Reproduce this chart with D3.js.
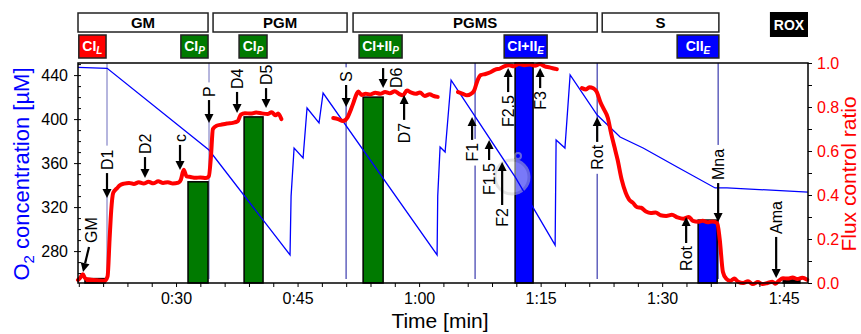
<!DOCTYPE html>
<html>
<head>
<meta charset="utf-8">
<script src="https://cdn.jsdelivr.net/npm/d3@7"></script>
<style>
  body { margin: 0; background: #fff; }
  svg { display: block; font-family: "Liberation Sans", Arial, sans-serif; }
</style>
</head>
<body>
<svg id="chart" width="861" height="334"></svg>
<script>
// O2 concentration trace [min, µM]
const o2Trace = [[17.9,447.1],[21.5,446.2],[34.07,371.9],[44.07,276.5],[44.2,330],[44.57,373.7],[45.68,364.6],[46.17,410.1],
  [47.65,396.5],[48.15,423.7],[62.22,276.5],[62.3,330],[62.59,374.6],[63.21,370.1],[63.95,435.5],[71.85,347.4],
  [76.79,285.5],[76.91,381],[78.0,373.7],[78.64,440.1],[81.98,403.7],[84.81,383.7],[87.65,373.7],[91.85,356.5],
  [96.54,337.4],[98.0,337.4],[108,333.7]];

// flux control ratio, one array per recorded section [min, ratio]
const fluxGM = [[17.9,0.014],[18.2,0.025],[18.5,0.04],[18.8,0.02],[19.5,0.015],[20.3,0.012],[21.2,0.01],[21.55,0.03],
  [21.8,0.2],[22.0,0.33],[22.25,0.41],[22.7,0.43],[23.1,0.445],[23.6,0.452],[24.2,0.455],[24.8,0.45],[25.4,0.458],
  [26.0,0.452],[26.6,0.46],[27.2,0.453],[27.8,0.462],[28.4,0.455],[29.0,0.458],[29.6,0.452],[30.3,0.456],[30.6,0.47],
  [30.95,0.515],[31.3,0.485],[31.8,0.482],[32.4,0.478],[33.0,0.48],[33.7,0.477],[34.05,0.485],[34.3,0.57],[34.55,0.7],
  [35.0,0.715],[35.6,0.72],[36.3,0.725],[37.0,0.728],[37.6,0.735],[38.0,0.765],[38.5,0.772],[39.2,0.77],[39.9,0.775],
  [40.6,0.771],[41.3,0.768],[41.8,0.776],[42.3,0.762],[42.6,0.77],[43.0,0.745]];
const fluxPGMS = [[49.4,0.75],[50.0,0.745],[50.6,0.736],[51.2,0.755],[51.6,0.79],[51.9,0.82],[52.3,0.86],[52.5,0.87],
  [52.9,0.855],[53.4,0.86],[54.0,0.857],[54.6,0.865],[55.2,0.86],[55.8,0.868],[56.4,0.862],[57.0,0.872],[57.5,0.86],
  [58.0,0.853],[58.5,0.875],[59.0,0.866],[59.6,0.86],[60.1,0.866],[60.7,0.85],[61.3,0.858],[61.8,0.85],[62.3,0.846]];
const fluxF = [[64.8,0.868],[65.4,0.86],[65.9,0.853],[66.4,0.86],[66.8,0.875],[67.2,0.92],[67.6,0.945],[68.2,0.95],
  [68.8,0.958],[69.4,0.97],[70.0,0.975],[70.5,0.985],[71.1,0.99],[71.7,0.985],[72.3,0.995],[73.0,0.99],[73.7,0.993],
  [74.3,0.988],[74.9,0.995],[75.5,0.985],[76.1,0.98],[76.6,0.975],[77.0,0.972]];
const fluxS = [[80.1,0.886],[80.6,0.88],[81.0,0.89],[81.5,0.885],[81.9,0.87],[82.4,0.82],[82.8,0.79],[83.3,0.75],
  [83.7,0.68],[84.1,0.62],[84.5,0.56],[85.0,0.47],[85.5,0.41],[85.9,0.38],[86.4,0.364],[86.9,0.345],[87.4,0.342],
  [88.0,0.325],[88.6,0.318],[89.2,0.32],[89.8,0.308],[90.5,0.305],[91.2,0.31],[91.9,0.298],[92.6,0.292],[93.3,0.3],
  [93.8,0.282],[94.4,0.278],[95.0,0.283],[95.6,0.276],[96.2,0.28],[96.8,0.272],[97.1,0.2],[97.5,0.05],[97.9,0.02],
  [98.4,0.01],[98.9,0.02],[99.4,0.005],[100.0,0.0],[100.6,0.008],[101.2,-0.005],[101.8,0.004],[102.4,-0.005],
  [103.0,0.0],[103.6,0.006],[104.0,-0.003],[104.4,0.01],[104.9,0.022],[105.5,0.02],[106.1,0.025],[106.7,0.018],
  [107.3,0.024],[107.9,0.015]];

// marked flux states (bars)
const barStart = [18.76,31.48,38.4,53.09,71.85,94.44,104.94];
const barEnd = [21.23,33.95,40.74,55.56,74.07,96.79,107.0];
const barValue = [0.02,0.46,0.755,0.845,1.0,0.286,0.014];
const barColor = ["#ff0000","#007a00","#007a00","#007a00","#0000ff","#0000ff","#000000"];

// substrate states and rate labels on top
const stateLabel = ["GM","PGM","PGMS","S"];
const stateStart = [17.9,34.57,51.85,82.6];
const stateEnd = [33.95,51.11,81.98,97.0];
const roxStart = 103.3, roxEnd = 108.0;
const rateMain = ["CI","CI","CI","CI+II","CI+II","CII"];
const rateSub = ["L","P","P","P","E","E"];
const rateStart = [18.0,30.6,37.78,52.59,70.5,91.85];
const rateEnd = [21.36,33.95,41.23,57.9,75.8,97.0];
const rateColor = ["#ff0000","#007a00","#007a00","#007a00","#0000ff","#0000ff"];

// titration events
const eventTimes = [21.48,34.07,50.99,66.91,81.98,96.91];
const annLabel = ["GM","D1","D2","c","P","D4","D5","S","D6","D7","F1","F1.5","F2","F2.5","F3","Rot","Mna","Rot","Ama"];
const annTime = [18.52,21.48,26.17,30.49,34.07,37.53,41.11,50.99,55.56,58.15,66.54,68.64,70.25,70.99,74.94,81.98,96.91,92.96,104.07];
const annTip = [0.05,0.386,0.477,0.514,0.727,0.773,0.795,0.8,0.886,0.855,0.755,0.65,0.55,0.977,0.977,0.755,0.277,0.3,0.023];

// arrow layout
const annUp = [0,0,0,0,0,0,0,0,0,1,1,1,1,1,1,1,0,1,0];
const annLen = [25,25,21,25,23,21,20,22,20,25,23,20,43,24,20,25,39,26,41];

const svg = d3.select("#chart");
const L = 78, R = 808, T = 63, B = 283;

const x = d3.scaleLinear().domain([17.9, 108.0]).range([L, R]);
const yO2 = d3.scaleLinear().domain([251, 451]).range([B, T]);
const yF = d3.scaleLinear().domain([0, 1]).range([B, T]);

const fmt = d => Math.floor(d / 60) + ":" + String(d % 60).padStart(2, "0");

// event lines
svg.append("g").selectAll("line").data(eventTimes).enter().append("line")
  .attr("x1", d => x(d)).attr("x2", d => x(d))
  .attr("y1", T).attr("y2", 279)
  .attr("stroke", (d, i) => i < 2 ? "#8585c8" : "#3a3aad")
  .attr("stroke-width", 1.2);

// white patches behind labels so the event lines break there
const labelBg = svg.append("g");

// bars
svg.append("g").selectAll("rect").data(barStart).enter().append("rect")
  .attr("x", (d, i) => x(d))
  .attr("width", (d, i) => x(barEnd[i]) - x(d))
  .attr("y", (d, i) => yF(barValue[i]))
  .attr("height", (d, i) => B - yF(barValue[i]))
  .attr("fill", (d, i) => barColor[i])
  .attr("stroke", "#000").attr("stroke-width", 1.5);

// watermark
const wm = svg.append("g").attr("opacity", 0.5);
wm.append("circle").attr("cx", 512).attr("cy", 177).attr("r", 17)
  .attr("fill", "#f2f2f2").attr("stroke", "#c8c8c8").attr("stroke-width", 3);
wm.append("circle").attr("cx", 518).attr("cy", 156).attr("r", 3)
  .attr("fill", "none").attr("stroke", "#c8c8c8").attr("stroke-width", 2);

// O2 trace
svg.append("path").datum(o2Trace)
  .attr("fill", "none").attr("stroke", "#0000ff").attr("stroke-width", 1.3)
  .attr("d", d3.line().x(d => x(d[0])).y(d => yO2(d[1])));

// flux control ratio
const fLine = d3.line().x(d => x(d[0])).y(d => yF(d[1])).curve(d3.curveMonotoneX);
[fluxGM, fluxPGMS, fluxF, fluxS].forEach(seg => {
  svg.append("path").datum(seg)
    .attr("fill", "none").attr("stroke", "#ff0000").attr("stroke-width", 4)
    .attr("stroke-linejoin", "round").attr("stroke-linecap", "round")
    .attr("d", fLine);
});

// frame
svg.append("rect").attr("x", L).attr("y", T).attr("width", R - L).attr("height", B - T)
  .attr("fill", "none").attr("stroke", "#000").attr("stroke-width", 1.5);

// axes
const xAxis = svg.append("g").attr("transform", `translate(0,${B})`)
  .call(d3.axisBottom(x).tickValues(d3.range(18, 108, 3)).tickSize(4).tickPadding(6)
    .tickFormat(d => d % 15 === 0 ? fmt(d) : ""));
const yAxisL = svg.append("g").attr("transform", `translate(${L},0)`)
  .call(d3.axisLeft(yO2).tickValues([280, 320, 360, 400, 440]).tickSize(4).tickPadding(6));
svg.append("g").attr("transform", `translate(${L},0)`)
  .call(d3.axisRight(yO2).tickValues(d3.range(260, 451, 10)).tickSize(3).tickFormat(""));
const yAxisR = svg.append("g").attr("transform", `translate(${R},0)`)
  .call(d3.axisRight(yF).tickValues(d3.range(11).map(i => i / 10)).tickSize(4).tickPadding(5)
    .tickFormat(d => Math.round(d * 10) % 2 === 0 ? d.toFixed(1) : ""));
svg.selectAll(".domain").remove();
svg.selectAll(".tick line").attr("stroke", "#000");
svg.selectAll(".tick text").attr("font-size", 16).attr("font-family", "Liberation Sans, Arial, sans-serif");
xAxis.selectAll("text").attr("fill", "#000");
yAxisL.selectAll("text").attr("fill", "#000");
yAxisR.selectAll("text").attr("fill", "#ff0000");

// axis titles
svg.append("text").attr("x", 440).attr("y", 328).attr("text-anchor", "middle")
  .attr("font-size", 21).attr("fill", "#000").text("Time [min]");
const lt = svg.append("text").attr("transform", "translate(29,174) rotate(-90)")
  .attr("text-anchor", "middle").attr("font-size", 22).attr("fill", "#0000ff");
lt.append("tspan").text("O");
lt.append("tspan").attr("font-size", 15).attr("dy", 5).text("2");
lt.append("tspan").attr("dy", -5).text(" concentration [µM]");
svg.append("text").attr("transform", "translate(856,174) rotate(-90)")
  .attr("text-anchor", "middle").attr("font-size", 21).attr("fill", "#ff0000").text("Flux control ratio");

// state boxes
const boxes = svg.append("g");
stateLabel.forEach((s, i) => {
  boxes.append("rect").attr("x", x(stateStart[i])).attr("y", 13)
    .attr("width", x(stateEnd[i]) - x(stateStart[i])).attr("height", 19)
    .attr("fill", "#fff").attr("stroke", "#222").attr("stroke-width", 1.5);
  boxes.append("text").attr("x", (x(stateStart[i]) + x(stateEnd[i])) / 2).attr("y", 28)
    .attr("text-anchor", "middle").attr("font-size", 15).attr("font-weight", "bold").text(s);
});
boxes.append("rect").attr("x", x(roxStart)).attr("y", 12)
  .attr("width", x(roxEnd) - x(roxStart)).attr("height", 25).attr("fill", "#000");
boxes.append("text").attr("x", (x(roxStart) + x(roxEnd)) / 2).attr("y", 30)
  .attr("text-anchor", "middle").attr("font-size", 14).attr("font-weight", "bold")
  .attr("fill", "#fff").text("ROX");

rateMain.forEach((s, i) => {
  boxes.append("rect").attr("x", x(rateStart[i])).attr("y", 35)
    .attr("width", x(rateEnd[i]) - x(rateStart[i])).attr("height", 23)
    .attr("fill", rateColor[i]).attr("stroke", "#222").attr("stroke-width", 1.5);
  const t = boxes.append("text").attr("x", (x(rateStart[i]) + x(rateEnd[i])) / 2).attr("y", 51)
    .attr("text-anchor", "middle").attr("font-size", 14).attr("font-weight", "bold").attr("fill", "#fff");
  t.append("tspan").text(s);
  t.append("tspan").attr("font-size", 10).attr("font-style", "italic").attr("dy", 3).text(rateSub[i]);
});

// arrows and labels
const ann = svg.append("g");
function arrow(x1, y1, x2, y2) {
  const a = Math.atan2(y2 - y1, x2 - x1), hl = 9, hw = 4.5;
  const bx = x2 - hl * Math.cos(a), by = y2 - hl * Math.sin(a);
  ann.append("line").attr("x1", x1).attr("y1", y1).attr("x2", bx).attr("y2", by)
    .attr("stroke", "#000").attr("stroke-width", 2.2);
  ann.append("path").attr("fill", "#000")
    .attr("d", `M${x2},${y2}L${bx + hw * Math.sin(a)},${by - hw * Math.cos(a)}L${bx - hw * Math.sin(a)},${by + hw * Math.cos(a)}Z`);
}
function label(px, py, s, anchor) {
  const t = ann.append("text").attr("transform", `translate(${px},${py}) rotate(-90)`)
    .attr("text-anchor", anchor).attr("dominant-baseline", "central")
    .attr("font-size", 16).attr("fill", "#000").text(s);
  const len = t.node().getComputedTextLength();
  const y0 = anchor === "start" ? py - len : py;
  labelBg.append("rect").attr("x", px - 8).attr("y", y0 - 4).attr("width", 16).attr("height", len + 8)
    .attr("fill", "#fff");
}
annLabel.forEach((s, i) => {
  const px = x(annTime[i]), tip = yF(annTip[i]);
  if (s === "GM") {
    arrow(px + 6, tip - annLen[i], px, tip);
    label(px + 8, tip - annLen[i] - 4, s, "start");
  } else if (s === "D6") {
    arrow(px, tip - annLen[i], px, tip);
    label(px + 13, tip, s, "start");
  } else if (annUp[i]) {
    arrow(px, tip + annLen[i], px, tip);
    label(px, tip + annLen[i] + 3, s, "end");
  } else {
    arrow(px, tip - annLen[i], px, tip);
    label(px, tip - annLen[i] - 3, s, "start");
  }
});
</script>
</body>
</html>
